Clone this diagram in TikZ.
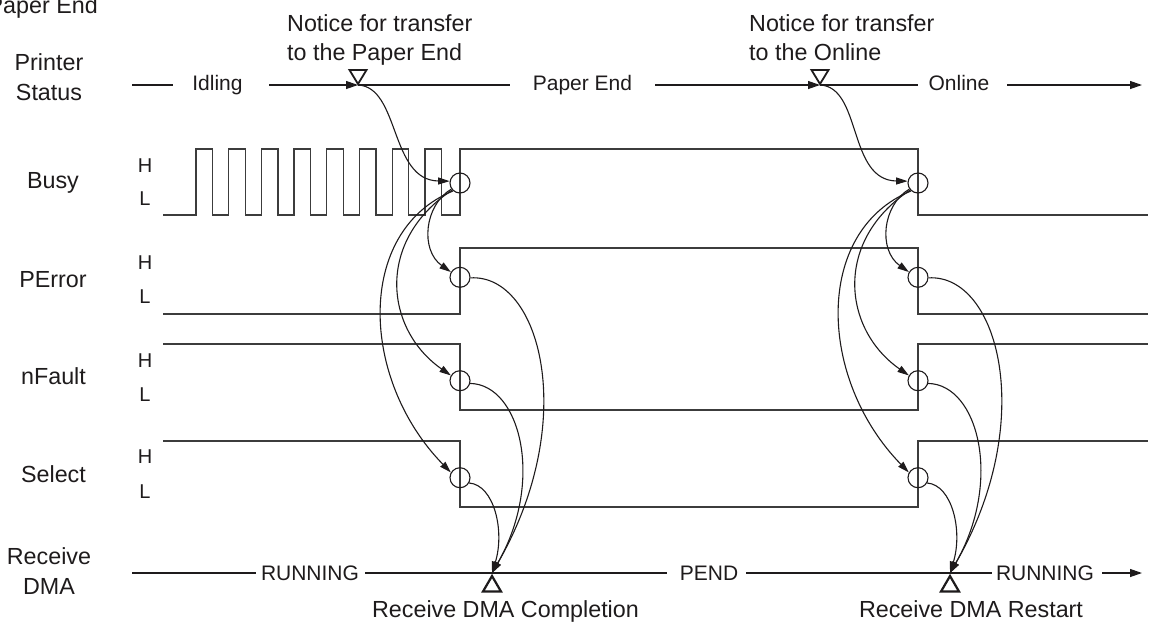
\documentclass[tikz,border=0pt]{standalone}
\usepackage{fontspec}
\setmainfont{Liberation Sans}
\usetikzlibrary{arrows.meta,calc}
\definecolor{ink}{RGB}{30,27,28}
\definecolor{sig}{RGB}{60,60,60}
\begin{document}
\begin{tikzpicture}[x=1pt,y=-1pt,
  txt/.style={font=\fontsize{23.3}{28}\selectfont, inner sep=0, text=ink},
  st/.style={font=\fontsize{21}{25}\selectfont, inner sep=0, text=ink},
  hl/.style={font=\fontsize{20}{24}\selectfont, inner sep=0, text=ink},
  sigline/.style={draw=sig, line width=1.3pt},
  tl/.style={draw=ink, line width=1.2pt},
  arr/.style={draw=ink, line width=1.2pt, -{Triangle[length=12pt,width=8pt]}},
  conn/.style={draw=ink, line width=1.1pt, -{Triangle[length=11.5pt,width=7pt]}},
  ring/.style={circle, draw=ink, line width=1.1pt, minimum size=20pt, inner sep=0},
  evtri/.style={draw=ink, line width=1.8pt, fill=white, line join=miter},
]
\useasboundingbox (0,0) rectangle (1152,625);
\clip (0,0) rectangle (1152,625);

% ---------- left labels ----------
\node[txt, anchor=base east] (hdr) at (98,13.3) {Paper End};
\node[txt, anchor=base] (lps1) at (49,70.7) {Printer};
\node[txt, anchor=base] (lps2) at (49,100) {Status};
\node[txt, anchor=base] (lbusy) at (53,188) {Busy};
\node[txt, anchor=base] (lperr) at (53,287) {PError};
\node[txt, anchor=base] (lnf) at (53.5,384) {nFault};
\node[txt, anchor=base] (lsel) at (53.5,482) {Select};
\node[txt, anchor=base] (ldma1) at (49,564) {Receive};
\node[txt, anchor=base] (ldma2) at (49,594) {DMA};

% H / L
\node[hl, anchor=base] (h1) at (145,172) {H};
\node[hl, anchor=base] (l1) at (145,205.5) {L};
\node[hl, anchor=base] (h2) at (145,269.5) {H};
\node[hl, anchor=base] (l2) at (145,303) {L};
\node[hl, anchor=base] (h3) at (145,367) {H};
\node[hl, anchor=base] (l3) at (145,401) {L};
\node[hl, anchor=base] (h4) at (145,463) {H};
\node[hl, anchor=base] (l4) at (145,498) {L};

% ---------- notices ----------
\node[txt, anchor=base west] (nA1) at (287,31.7) {Notice for transfer};
\node[txt, anchor=base west] (nA2) at (287,60) {to the Paper End};
\node[txt, anchor=base west] (nB1) at (749,31.7) {Notice for transfer};
\node[txt, anchor=base west] (nB2) at (749,60) {to the Online};

% ---------- printer status line ----------
\coordinate (ps0) at (132,85);
\coordinate (ps1) at (173,85);
\node[st, anchor=base] (idl) at (217.5,90.5) {Idling};
\coordinate (ps2) at (269,85);
\coordinate (tA) at (358,85);
\coordinate (ps3) at (510,85);
\node[st, anchor=base] (pe) at (582.5,90.5) {Paper End};
\coordinate (ps4) at (655,85);
\coordinate (tB) at (820,85);
\coordinate (ps5) at (918,85);
\node[st, anchor=base] (onl) at (959,90.5) {Online};
\coordinate (ps6) at (1007,85);
\coordinate (ps7) at (1142,85);
\draw[tl] (ps0) -- (ps1);
\draw[arr] (ps2) -- (tA);
\draw[tl] (tA) -- (ps3);
\draw[arr] (ps4) -- (tB);
\draw[tl] (tB) -- (ps5);
\draw[arr] (ps6) -- (ps7);
\draw[evtri] ($(tA)+(0,-1)$) -- ++(-8.5,-14) -- ++(17,0) -- cycle;
\draw[evtri] ($(tB)+(0,-1)$) -- ++(-8.5,-14) -- ++(17,0) -- cycle;

% ---------- receive DMA line ----------
\coordinate (dm0) at (132,573);
\coordinate (dm1) at (256,573);
\node[st, anchor=base] (run1) at (310,580.5) {RUNNING};
\coordinate (dm2) at (365,573);
\coordinate (dA) at (492,573);
\coordinate (dm3) at (667,573);
\node[st, anchor=base] (pend) at (709,580.5) {PEND};
\coordinate (dm4) at (746,573);
\coordinate (dB) at (950,573);
\coordinate (dm5) at (992,573);
\node[st, anchor=base] (run2) at (1045,580.5) {RUNNING};
\coordinate (dm6) at (1102,573);
\coordinate (dm7) at (1142,573);
\draw[tl] (dm0) -- (dm1);
\draw[tl] (dm2) -- (dm3);
\draw[tl] (dm4) -- (dm5);
\draw[arr] (dm6) -- (dm7);
\draw[evtri, line width=2.2pt] ($(dA)+(0,3)$) -- ++(-9,15.5) -- ++(18,0) -- cycle;
\draw[evtri, line width=2.2pt] ($(dB)+(0,3)$) -- ++(-9,15.5) -- ++(18,0) -- cycle;
\node[txt, anchor=base] (cmpl) at (505.5,617) {Receive DMA Completion};
\node[txt, anchor=base] (rst) at (971,617) {Receive DMA Restart};

% ---------- signals ----------
\draw[sigline] (163,215)
  \foreach \i in {0,...,7} { -- ({196+32.7*\i},215) -- ({196+32.7*\i},149) -- ({212.5+32.7*\i},149) -- ({212.5+32.7*\i},215) }
  -- (460,215) -- (460,149) -- (918,149) -- (918,215) -- (1148,215);
\draw[sigline] (163,314) -- (460,314) -- (460,248) -- (918,248) -- (918,314) -- (1148,314);
\draw[sigline] (163,344) -- (460,344) -- (460,410) -- (918,410) -- (918,344) -- (1148,344);
\draw[sigline] (163,441) -- (460,441) -- (460,507) -- (918,507) -- (918,441) -- (1148,441);

% ---------- circles and connectors ----------
\foreach \g/\dx in {A/0,B/458} {
  \node[ring] (b\g) at ({460+\dx},183) {};
  \node[ring] (p\g) at ({460+\dx},277.3) {};
  \node[ring] (n\g) at ({460+\dx},380.7) {};
  \node[ring] (s\g) at ({460+\dx},477.7) {};
  \draw[conn] (b\g.215) .. controls +(-27,16) and +(-31,-22) .. (p\g.150);
  \draw[conn] (b\g.222) .. controls +(-77,51) and +(-66,-46) .. (n\g.150);
  \draw[conn] (b\g.229) .. controls +(-98,40) and +(-91,-93) .. (s\g.150);
  \draw[conn] (p\g.-3) .. controls +(70,-4) and +(88,-152) .. (d\g);
  \draw[conn] (n\g.-15) .. controls +(50,1) and +(53,-92) .. (d\g);
  \draw[conn] (s\g.-30) .. controls +(25,2) and +(13,-42) .. (d\g);
}
\draw[conn] (tA) .. controls +(42,2) and +(-60,-1) .. (bA.170);
\draw[conn] (tB) .. controls +(42,2) and +(-60,-1) .. (bB.170);
\end{tikzpicture}
\end{document}
